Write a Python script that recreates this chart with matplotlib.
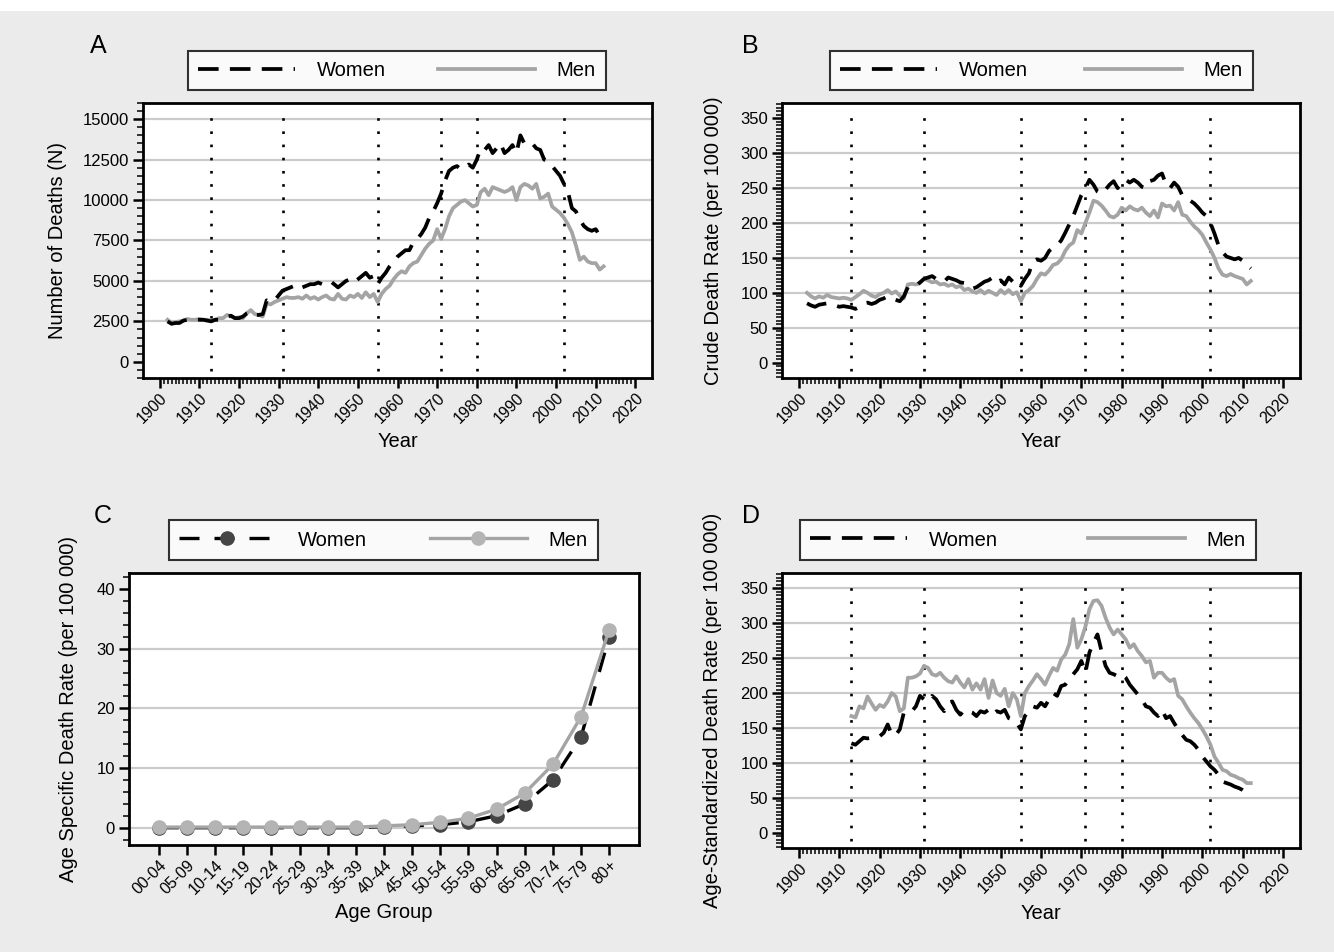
import numpy as np
import matplotlib
matplotlib.use('Agg')
import matplotlib.pyplot as plt
from matplotlib.ticker import MultipleLocator, FixedLocator
from matplotlib.patches import Rectangle

plt.rcParams['font.family'] = ['Liberation Sans', 'DejaVu Sans']

# ---- data ----
years = np.arange(1902, 2013)
years_std = np.arange(1913, 2013)
cut_years = [1913, 1931, 1955, 1971, 1980, 2002]

deaths_men = [
    2600, 2400, 2450, 2500, 2550, 2650, 2600, 2600, 2650, 2600,
    2600, 2550, 2600, 2700, 2700, 2900, 2800, 2700, 2750, 2700,
    3000, 3200, 2950, 2900, 2800, 3600, 3550, 3700, 3800, 3900,
    4000, 3950, 3950, 4000, 3900, 4100, 3900, 4000, 3850, 4000,
    4100, 3900, 3850, 4200, 3900, 3850, 4100, 4000, 4200, 3950,
    4300, 4000, 4200, 3700, 4200, 4500, 4700, 5100, 5400, 5600,
    5500, 5900, 6100, 6200, 6600, 7000, 7300, 7500, 8200, 7600,
    8200, 9000, 9500, 9700, 9900, 10000, 9800, 9600, 9700, 10500,
    10700, 10300, 10800, 10700, 10600, 10500, 10600, 10800, 10000, 10800,
    11000, 10900, 10700, 11000, 10100, 10200, 10400, 9600, 9400, 9200,
    8900, 8500, 8000, 7200, 6300, 6500, 6200, 6100, 6100, 5700,
    5900]
deaths_women = [
    2500, 2350, 2400, 2400, 2550, 2600, 2600, 2600, 2600, 2600,
    2550, 2500, 2600, 2600, 2700, 2800, 2850, 2700, 2700, 2800,
    3000, 3100, 2900, 2900, 2950, 3800, 3700, 3800, 4100, 4400,
    4500, 4600, 4700, 4800, 4600, 4700, 4800, 4800, 4900, 4800,
    4900, 5000, 4800, 4600, 4800, 5000, 5100, 4900, 5100, 5300,
    5500, 5200, 5300, 4800, 5200, 5500, 5900, 6200, 6500, 6700,
    6900, 6900, 7400, 7600, 7900, 8300, 8900, 9300, 9800, 10400,
    11200, 11800, 12000, 12100, 11900, 12000, 12200, 12000, 12500, 13200,
    13100, 13400, 12900, 13200, 13500, 12900, 13100, 13400, 12900, 14000,
    13500, 13600, 13500, 13200, 13100, 12500, 12400, 12100, 11800, 11500,
    11000, 10500, 9500, 9300, 8800, 8400, 8200, 8100, 8200, 7800,
    7900]

crude_men = [
    100, 95, 92, 95, 93, 97, 94, 93, 92, 93,
    92, 90, 94, 98, 103, 100, 96, 94, 98, 100,
    104, 99, 102, 96, 92, 112, 113, 112, 114, 120,
    118, 115, 116, 112, 113, 110, 112, 108, 110, 104,
    106, 102, 100, 104, 99, 103, 100, 97, 104, 99,
    104, 98, 101, 88, 100, 104, 110, 120, 128, 126,
    132, 140, 142, 148, 160, 168, 172, 190, 185, 200,
    215, 232, 230, 225, 218, 210, 208, 212, 222, 218,
    224, 220, 218, 222, 215, 210, 218, 208, 228, 224,
    225, 218, 230, 212, 210, 202, 195, 190, 183, 172,
    162, 150, 135, 126, 124, 127, 124, 122, 120, 112,
    117]
crude_women = [
    85, 82, 80, 83, 84, 85, 83, 82, 80, 81,
    80, 79, 77, 80, 85, 86, 84, 86, 90, 92,
    95, 92, 90, 88, 95, 108, 110, 110, 115, 120,
    122, 124, 120, 119, 116, 122, 120, 118, 115, 114,
    110, 106, 108, 112, 116, 118, 122, 115, 118, 112,
    122, 116, 119, 110, 120, 128, 145, 148, 146, 150,
    160, 165, 168, 175, 186, 198, 210, 225, 240, 250,
    262, 255, 245, 242, 248, 255, 260, 250, 258, 262,
    258, 262, 258, 252, 250, 260, 262, 268, 271, 255,
    250, 258, 252, 240, 236, 232, 228, 222, 215, 210,
    200, 185, 168, 158, 152, 150, 148, 150, 146, 140,
    135]

age_groups = ['00-04', '05-09', '10-14', '15-19', '20-24', '25-29', '30-34',
              '35-39', '40-44', '45-49', '50-54', '55-59', '60-64', '65-69',
              '70-74', '75-79', '80+']
asdr_men = [0.1, 0.1, 0.1, 0.1, 0.1, 0.1, 0.1, 0.1, 0.3, 0.5, 0.9, 1.6,
            3.1, 5.8, 10.6, 18.6, 33.2]
asdr_women = [0.0, 0.0, 0.0, 0.0, 0.0, 0.0, 0.0, 0.0, 0.2, 0.3, 0.5, 1.0,
              2.0, 4.0, 8.0, 15.2, 32.0]

std_men = [
    167, 165, 181, 178, 195, 185, 176, 183, 180, 188,
    200, 195, 174, 178, 222, 222, 224, 228, 239, 236,
    227, 225, 229, 222, 217, 215, 224, 215, 208, 220,
    205, 214, 205, 220, 193, 218, 200, 196, 206, 181,
    200, 191, 167, 200, 210, 218, 227, 220, 212, 225,
    236, 232, 248, 255, 270, 306, 265, 277, 295, 320,
    332, 333, 325, 308, 294, 284, 291, 284, 277, 265,
    270, 260, 253, 244, 246, 222, 229, 229, 222, 217,
    220, 196, 191, 181, 172, 164, 157, 148, 138, 126,
    109, 100, 90, 88, 83, 81, 78, 76, 71, 71]
std_women = [
    128, 126, 131, 136, 135, 136, 137, 138, 143, 155,
    140, 140, 148, 172, 174, 174, 181, 196, 191, 188,
    196, 191, 181, 174, 186, 188, 176, 169, 176, 174,
    172, 167, 174, 172, 176, 169, 174, 172, 176, 164,
    162, 157, 148, 167, 174, 181, 179, 186, 181, 191,
    200, 196, 210, 212, 220, 227, 234, 246, 229, 258,
    272, 284, 260, 239, 229, 227, 224, 227, 222, 212,
    205, 198, 191, 181, 179, 172, 167, 176, 164, 167,
    157, 148, 140, 133, 131, 126, 119, 109, 102, 95,
    90, 83, 73, 71, 69, 66, 64, 61, 57, 54]

# ---- figure ----
W, H = 1334, 952
BG = '#ebebeb'
MEN = '#a4a4a4'
GRID = '#cbcbcb'
DASH = (5.5, 3.0)
LW = 2.7

fig = plt.figure(figsize=(W / 100, H / 100), dpi=100, facecolor=BG)
fig.patches.append(Rectangle((0, 1 - 11 / H), 1, 11 / H, transform=fig.transFigure,
                             facecolor='white', edgecolor='none', zorder=-1))


def add_ax(l, t, r, b):
    return fig.add_axes([l / W, 1 - b / H, (r - l) / W, (b - t) / H])


def style(ax, ylim, major, minor, grid_vals):
    ax.set_facecolor('white')
    for s in ax.spines.values():
        s.set_linewidth(2.0)
        s.set_color('black')
    ax.set_ylim(*ylim)
    ax.yaxis.set_major_locator(MultipleLocator(major))
    ax.yaxis.set_minor_locator(MultipleLocator(minor))
    ax.tick_params(which='major', length=7, width=1.8, labelsize=12, pad=3)
    ax.tick_params(axis='x', which='major', labelsize=11.5, pad=2)
    ax.tick_params(which='minor', length=4, width=1.1)
    for g in grid_vals:
        ax.axhline(g, color=GRID, lw=1.6, zorder=0)


def year_axis(ax):
    ax.set_xlim(1895.8, 2024.2)
    ax.xaxis.set_major_locator(FixedLocator(range(1900, 2021, 10)))
    ax.xaxis.set_minor_locator(FixedLocator(range(1900, 2021)))
    for lab in ax.get_xticklabels():
        lab.set_rotation(45)
        lab.set_ha('right')
        lab.set_rotation_mode('anchor')
    for c in cut_years:
        ax.axvline(c, ymin=0.025, ymax=0.975, color='black', lw=1.9,
                   ls=(0, (1, 4.0)), zorder=1)


def add_legend(ax, handles, box):
    l, t, r, b = box
    leg = ax.legend(handles, ['Women', 'Men'], loc='center',
                    bbox_to_anchor=(l / W, 1 - b / H, (r - l) / W, (b - t) / H),
                    bbox_transform=fig.transFigure, mode='expand', ncol=2,
                    fontsize=14.5, fancybox=False, edgecolor='black',
                    borderaxespad=0, handlelength=4.8, handletextpad=1.1,
                    borderpad=0.5, columnspacing=2.5)
    leg.get_frame().set_linewidth(1.5)


label_kw = dict(fontsize=14.5)

# Panel A
axA = add_ax(143, 103, 652, 378)
style(axA, (-1000, 16000), 2500, 500, [2500, 5000, 7500, 10000, 12500, 15000])
wA, = axA.plot(years, deaths_women, color='black', lw=LW, dashes=DASH, zorder=3)
mA, = axA.plot(years, deaths_men, color=MEN, lw=LW, zorder=2)
year_axis(axA)
axA.set_ylabel('Number of Deaths (N)', **label_kw)
axA.set_xlabel('Year', **label_kw)
axA.yaxis.set_label_coords(-0.150, 0.5)
axA.xaxis.set_label_coords(0.5, -0.195)
add_legend(axA, [wA, mA], (188, 47, 606, 94))
fig.text(90 / W, 1 - 53 / H, 'A', fontsize=18, va='baseline')

# Panel B
axB = add_ax(782, 103, 1300, 378)
style(axB, (-22, 372), 50, 5, [50, 100, 150, 200, 250, 300])
wB, = axB.plot(years, crude_women, color='black', lw=LW, dashes=DASH, zorder=3)
mB, = axB.plot(years, crude_men, color=MEN, lw=LW, zorder=2)
year_axis(axB)
axB.set_ylabel('Crude Death Rate (per 100 000)', **label_kw)
axB.set_xlabel('Year', **label_kw)
axB.yaxis.set_label_coords(-0.113, 0.5)
axB.xaxis.set_label_coords(0.5, -0.195)
add_legend(axB, [wB, mB], (830, 47, 1253, 94))
fig.text(742 / W, 1 - 53 / H, 'B', fontsize=18, va='baseline')

# Panel C
axC = add_ax(129, 573, 639, 845)
style(axC, (-2.9, 42.7), 10, 2, [0, 10, 20, 30])
xc = np.arange(len(age_groups))
wC, = axC.plot(xc, asdr_women, color='black', lw=2.4, dashes=(6, 4.5),
               marker='o', ms=9.5, mfc='#454545', mec='#454545', zorder=3)
mC, = axC.plot(xc, asdr_men, color=MEN, lw=2.4, marker='o', ms=9.5,
               mfc='#b4b4b4', mec='#b4b4b4', zorder=4)
axC.set_xlim(-1.06, len(age_groups) - 1 + 1.06)
axC.set_xticks(xc)
axC.set_xticklabels(age_groups, rotation=45, ha='right', rotation_mode='anchor')
axC.set_ylabel('Age Specific Death Rate (per 100 000)', **label_kw)
axC.set_xlabel('Age Group', **label_kw)
axC.yaxis.set_label_coords(-0.100, 0.5)
axC.xaxis.set_label_coords(0.5, -0.215)
add_legend(axC, [wC, mC], (169, 517, 598, 563))
fig.text(94 / W, 1 - 523 / H, 'C', fontsize=18, va='baseline')

# Panel D
axD = add_ax(782, 573, 1300, 848)
style(axD, (-22, 372), 50, 5, [50, 100, 150, 200, 250, 300, 350])
wD, = axD.plot(years_std, std_women, color='black', lw=LW, dashes=DASH, zorder=3)
mD, = axD.plot(years_std, std_men, color=MEN, lw=LW, zorder=2)
year_axis(axD)
axD.set_ylabel('Age-Standardized Death Rate (per 100 000)', **label_kw)
axD.set_xlabel('Year', **label_kw)
axD.yaxis.set_label_coords(-0.116, 0.5)
axD.xaxis.set_label_coords(0.5, -0.205)
add_legend(axD, [wD, mD], (800, 517, 1256, 563))
fig.text(742 / W, 1 - 523 / H, 'D', fontsize=18, va='baseline')

fig.savefig('out.png', dpi=100, facecolor=BG)
